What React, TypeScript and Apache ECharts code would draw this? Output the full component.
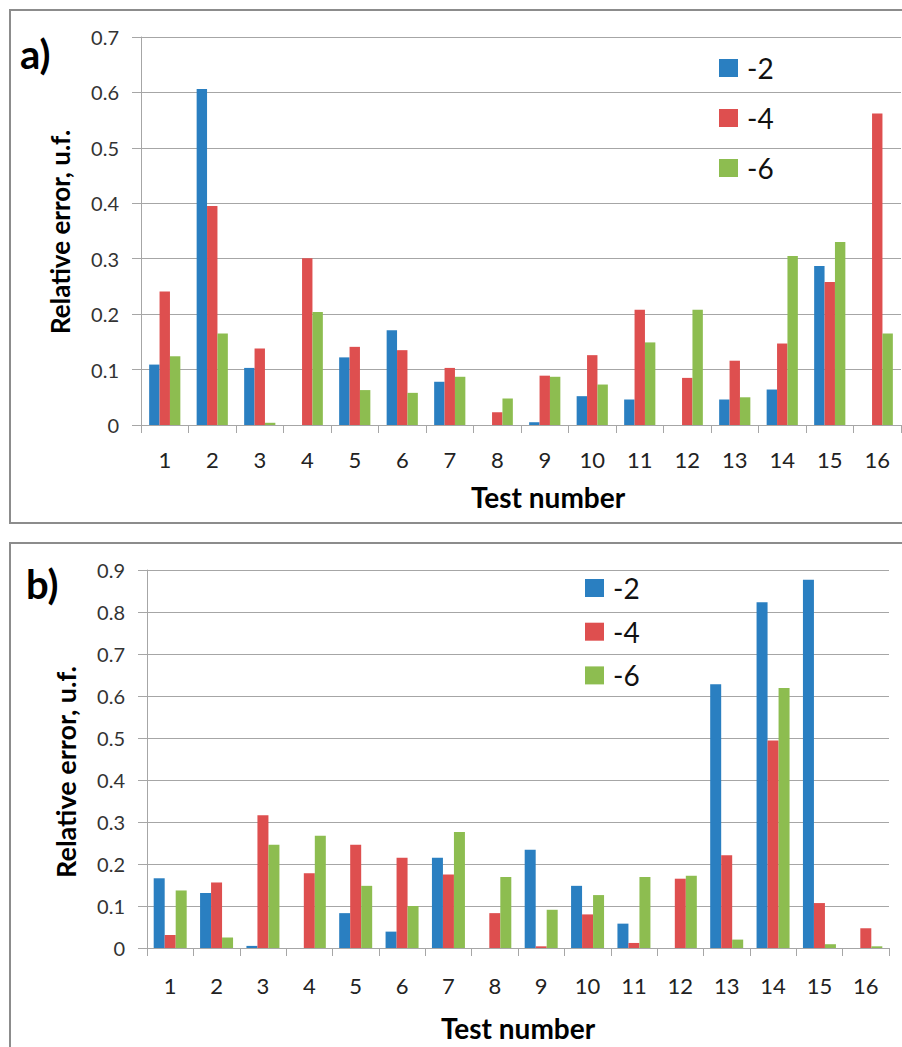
import React, { useEffect, useRef } from "react";
import * as echarts from "echarts";

const categories = ["1","2","3","4","5","6","7","8","9","10","11","12","13","14","15","16"];
const seriesNames = ["-2", "-4", "-6"];

// Panel a)
const aMinus2 = [0.109, 0.606, 0.103, 0, 0.122, 0.171, 0.078, 0, 0.005, 0.052, 0.046, 0, 0.046, 0.064, 0.287, 0];
const aMinus4 = [0.241, 0.395, 0.138, 0.301, 0.141, 0.135, 0.103, 0.023, 0.089, 0.126, 0.208, 0.085, 0.116, 0.147, 0.258, 0.562];
const aMinus6 = [0.124, 0.165, 0.004, 0.204, 0.063, 0.058, 0.087, 0.048, 0.087, 0.073, 0.149, 0.208, 0.050, 0.305, 0.330, 0.165];

// Panel b)
const bMinus2 = [0.166, 0.131, 0.005, 0, 0.083, 0.039, 0.215, 0, 0.234, 0.148, 0.058, 0, 0.628, 0.823, 0.877, 0];
const bMinus4 = [0.031, 0.156, 0.316, 0.178, 0.246, 0.215, 0.175, 0.083, 0.004, 0.080, 0.012, 0.165, 0.221, 0.494, 0.107, 0.047];
const bMinus6 = [0.137, 0.025, 0.246, 0.267, 0.148, 0.100, 0.276, 0.169, 0.091, 0.126, 0.169, 0.172, 0.020, 0.619, 0.009, 0.004];

const colors = ["#2A7FC1", "#DE4F4F", "#8DBD50"];
const FONT = "Lato";
const GRID_COLOR = "#a6a6a6";

function fmt(v: number) {
  return v === 0 ? "0" : v.toFixed(1);
}

export default function App() {
  const ref = useRef<HTMLDivElement>(null);
  useEffect(() => {
    if (!ref.current) return;
    const chart = echarts.init(ref.current, null, { renderer: "svg" });
    const xAxisBase = (gridIndex: number, margin: number) => ({
      type: "category" as const,
      gridIndex,
      data: categories,
      boundaryGap: true,
      axisLine: { show: true, lineStyle: { color: GRID_COLOR, width: 1 } },
      axisTick: { show: true, length: 8, interval: 0, lineStyle: { color: GRID_COLOR } },
      axisLabel: { interval: 0, margin, fontFamily: FONT, fontSize: 22, color: "#222" },
    });
    const yAxisBase = (gridIndex: number, max: number) => ({
      type: "value" as const,
      gridIndex,
      min: 0,
      max,
      interval: 0.1,
      axisLine: { show: true, lineStyle: { color: GRID_COLOR, width: 1 } },
      axisTick: { show: true, length: 9, lineStyle: { color: GRID_COLOR } },
      splitLine: { show: true, lineStyle: { color: GRID_COLOR, width: 1 } },
      axisLabel: { margin: 22, fontFamily: FONT, fontSize: 20, color: "#333", formatter: fmt },
    });
    const mkSeries = (data: number[], i: number, axisIdx: number, barWidth: number) => ({
      type: "bar" as const,
      name: seriesNames[i],
      xAxisIndex: axisIdx,
      yAxisIndex: axisIdx,
      data,
      barWidth,
      barGap: "0%",
      itemStyle: { color: colors[i] },
    });
    const legendBase = (left: number, top: number, itemGap: number) => ({
      orient: "vertical" as const,
      left,
      top,
      padding: 0,
      itemWidth: 19,
      itemHeight: 18,
      itemGap,
      icon: "rect",
      data: seriesNames,
      textStyle: { fontFamily: FONT, fontSize: 28, color: "#111", lineHeight: 28, padding: [0, 0, 0, 4] },
    });
    chart.setOption({
      animation: false,
      color: colors,
      grid: [
        { left: 141, top: 37, width: 760, height: 388 },
        { left: 147, top: 570, width: 742, height: 378 },
      ],
      xAxis: [xAxisBase(0, 23), xAxisBase(1, 26)],
      yAxis: [yAxisBase(0, 0.7), yAxisBase(1, 0.9)],
      legend: [legendBase(719, 54, 22), legendBase(585, 574, 15.7)],
      series: [
        mkSeries(aMinus2, 0, 0, 10.4),
        mkSeries(aMinus4, 1, 0, 10.4),
        mkSeries(aMinus6, 2, 0, 10.4),
        mkSeries(bMinus2, 0, 1, 11),
        mkSeries(bMinus4, 1, 1, 11),
        mkSeries(bMinus6, 2, 1, 11),
      ],
      graphic: [
        { type: "rect", shape: { x: 10, y: 10, width: 900, height: 513 }, style: { fill: "none", stroke: "#8c8c8c", lineWidth: 2 }, silent: true },
        { type: "rect", shape: { x: 10, y: 543, width: 900, height: 520 }, style: { fill: "none", stroke: "#8c8c8c", lineWidth: 2 }, silent: true },
        { type: "text", left: 20, top: 34, style: { text: "a)", font: `bold 40px ${FONT}`, fill: "#000" } },
        { type: "text", left: 26, top: 564, style: { text: "b)", font: `bold 40px ${FONT}`, fill: "#000" } },
        { type: "text", x: 60, y: 232, rotation: Math.PI / 2, style: { text: "Relative error, u.f.", font: `bold 26px ${FONT}`, fill: "#000", align: "center", verticalAlign: "middle" } },
        { type: "text", x: 65, y: 772, rotation: Math.PI / 2, style: { text: "Relative error, u.f.", font: `bold 27px ${FONT}`, fill: "#000", align: "center", verticalAlign: "middle" } },
        { type: "text", x: 548, y: 497, style: { text: "Test number", font: `bold 28px ${FONT}`, fill: "#000", align: "center", verticalAlign: "middle" } },
        { type: "text", x: 518, y: 1028, style: { text: "Test number", font: `bold 28px ${FONT}`, fill: "#000", align: "center", verticalAlign: "middle" } },
      ],
    });
    return () => chart.dispose();
  }, []);
  return <div ref={ref} style={{ position: "fixed", left: 0, top: 0, width: 902, height: 1047, background: "#fff" }} />;
}
